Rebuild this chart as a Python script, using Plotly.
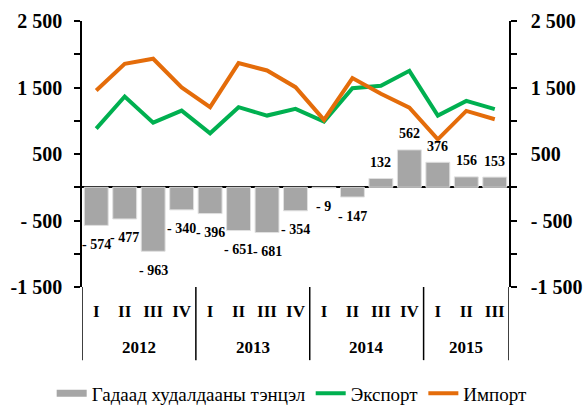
import plotly.graph_objects as go

years = ["2012"] * 4 + ["2013"] * 4 + ["2014"] * 4 + ["2015"] * 3
quarters = ["I", "II", "III", "IV", "I", "II", "III", "IV", "I", "II", "III", "IV", "I", "II", "III"]

balance = [-574, -477, -963, -340, -396, -651, -681, -354, -9, -147, 132, 562, 376, 156, 153]
export = [882, 1364, 972, 1153, 812, 1204, 1078, 1179, 987, 1490, 1525, 1751, 1078, 1299, 1174]
imports = [1454, 1857, 1932, 1500, 1204, 1867, 1756, 1505, 1013, 1641, 1405, 1198, 720, 1148, 1023]

tick_vals = [-1500, -1000, -500, 0, 500, 1000, 1500, 2000, 2500]
tick_text = ["-1 500", "", "- 500", "", "500", "", "1 500", "", "2 500"]

names = ["Гадаад худалдааны тэнцэл", "Экспорт", "Импорт"]

GRAY = "#a6a6a6"
GREEN = "#00b050"
ORANGE = "#e46c0a"
SERIF = "Liberation Serif, Times New Roman, serif"

idx = list(range(len(quarters)))

fig = go.Figure()
fig.add_trace(go.Bar(x=idx, y=balance, marker=dict(color=GRAY, line=dict(color="#e0e0e0", width=1)),
                     showlegend=False, name=names[0]))
# legend proxy for the bar series (wide rectangle symbol as in reference)
fig.add_trace(go.Scatter(x=[idx[0]], y=[None], mode="lines",
                         line=dict(color=GRAY, width=7), name=names[0]))
fig.add_trace(go.Scatter(x=idx, y=export, mode="lines", line=dict(color=GREEN, width=4), name=names[1]))
fig.add_trace(go.Scatter(x=idx, y=imports, mode="lines", line=dict(color=ORANGE, width=4), name=names[2],
                         yaxis="y2"))

def fmt(v):
    return f"- {abs(v)}" if v < 0 else f"{v}"

for i, v in enumerate(balance):
    fig.add_annotation(x=i, y=v, xref="x", yref="y", text=fmt(v), showarrow=False,
                       yshift=-19 if v < 0 else 16,
                       font=dict(family=SERIF, size=14, color="black", weight="bold"))

# year group labels and dividers
groups = []
for i, yr in enumerate(years):
    if not groups or groups[-1][0] != yr:
        groups.append([yr, i, i])
    else:
        groups[-1][2] = i

YEAR_Y = -0.226
DIV_Y = -0.275
bounds = set()
for yr, a, b in groups:
    fig.add_annotation(x=(a + b) / 2, y=YEAR_Y, xref="x", yref="paper", text=yr, showarrow=False,
                       yanchor="middle", font=dict(family=SERIF, size=17, color="black", weight="bold"))
    bounds.add(a - 0.5)
    bounds.add(b + 0.5)
for bx in sorted(bounds):
    fig.add_shape(type="line", xref="x", yref="paper", x0=bx, x1=bx, y0=0, y1=DIV_Y,
                  line=dict(color="black", width=1.5))

axis_common = dict(range=[-1500, 2500], tickmode="array", tickvals=tick_vals, ticktext=tick_text,
                   showline=True, linecolor="black", linewidth=1.5, ticks="outside", ticklen=6,
                   tickwidth=1.5, tickcolor="black", showgrid=False,
                   tickfont=dict(family=SERIF, size=20, color="black", weight="bold"))

fig.update_layout(
    width=584, height=405,
    margin=dict(l=82, r=75, t=21, b=118, autoexpand=False),
    plot_bgcolor="white", paper_bgcolor="white",
    bargap=0.16,
    xaxis=dict(range=[-0.5, len(idx) - 0.5], tickmode="array", tickvals=idx, ticktext=quarters,
               showline=False, showgrid=False, zeroline=False, ticks="", tickangle=0,
               ticklabelstandoff=12,
               tickfont=dict(family=SERIF, size=17, color="black", weight="bold")),
    yaxis=dict(**axis_common, zeroline=True, zerolinecolor="black", zerolinewidth=1.5,
               ticklabelstandoff=8),
    yaxis2=dict(**axis_common, overlaying="y", side="right", zeroline=False, ticklabelstandoff=10),
    legend=dict(orientation="h", xref="paper", yref="paper", x=-0.071, y=-0.40,
                xanchor="left", yanchor="middle", font=dict(family=SERIF, size=19, color="black"),
                bgcolor="rgba(0,0,0,0)"),
)

fig.write_html("out.html", config={"displayModeBar": False},
               post_script="document.body.style.margin='0';document.body.style.overflow='hidden';")
